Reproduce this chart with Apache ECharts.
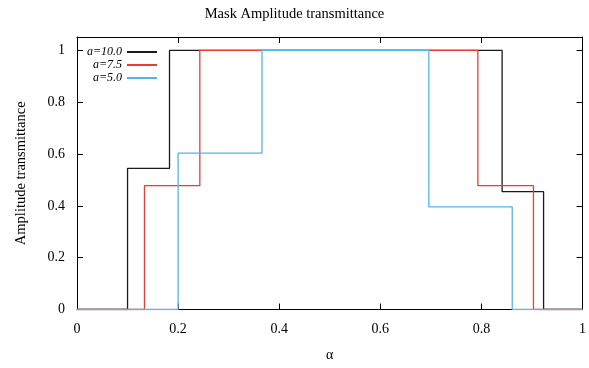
<!DOCTYPE html>
<html>
<head>
<meta charset="utf-8">
<script src="https://cdn.jsdelivr.net/npm/echarts@6/dist/echarts.min.js"></script>
<style>html,body{margin:0;padding:0;background:#fff}#chart{width:589px;height:368px}</style>
</head>
<body>
<div id="chart"></div>
<script>
// Step edges (alpha) and the transmittance level that holds from each edge to the next
const seriesNames = ['a=10.0', 'a=7.5', 'a=5.0'];
const edges10 = [0, 0.100, 0.183, 0.841, 0.923, 1];
const levels10 = [0, 0.545, 1, 0.455, 0, 0];
const edges75 = [0, 0.1335, 0.243, 0.793, 0.903, 1];
const levels75 = [0, 0.478, 1, 0.478, 0, 0];
const edges50 = [0, 0.200, 0.366, 0.696, 0.861, 1];
const levels50 = [0, 0.604, 1, 0.396, 0, 0];
const xTicks = ['0', '0.2', '0.4', '0.6', '0.8', '1'];
const yTicks = ['0', '0.2', '0.4', '0.6', '0.8', '1'];

const colors = ['#1a1a1a', '#ef3b2f', '#56b4e9'];
const font = 'Liberation Serif';

function pairs(xs, ys) { return xs.map((x, i) => [x, ys[i]]); }
const allData = [pairs(edges10, levels10), pairs(edges75, levels75), pairs(edges50, levels50)];

function fmt(list) {
  return v => { const s = String(+v.toFixed(1)); return list.includes(s) ? s : ''; };
}

const axisBase = {
  type: 'value', min: 0, interval: 0.2,
  axisLine: { show: true, onZero: false, lineStyle: { color: '#000', width: 1 } },
  axisTick: { show: true, inside: true, length: 6, lineStyle: { color: '#000' } },
  splitLine: { show: false },
  axisLabel: { color: '#000', fontFamily: font, fontSize: 14 }
};

const chart = echarts.init(document.getElementById('chart'), null, { renderer: 'canvas' });
chart.setOption({
  animation: false,
  backgroundColor: '#fff',
  title: {
    text: 'Mask Amplitude transmittance', left: 'center', top: 2,
    textStyle: { fontFamily: font, fontSize: 14.5, fontWeight: 'normal', color: '#000' }
  },
  legend: {
    data: seriesNames, orient: 'vertical', left: 77, top: 40.5,
    align: 'right', itemWidth: 30, itemHeight: 2, itemGap: 0,
    icon: 'rect',
    textStyle: { fontFamily: font, fontStyle: 'italic', fontSize: 12, lineHeight: 13, color: '#000', width: 40, align: 'right' }
  },
  grid: { left: 77, right: 4.5, top: 37, bottom: 58.5 },
  xAxis: [
    Object.assign({}, axisBase, { max: 1, position: 'bottom',
      name: 'α', nameLocation: 'middle', nameGap: 39,
      nameTextStyle: { fontFamily: font, fontSize: 14, color: '#000' },
      axisLabel: Object.assign({}, axisBase.axisLabel, { margin: 13, formatter: fmt(xTicks) }) }),
    Object.assign({}, axisBase, { max: 1, position: 'top', axisLabel: { show: false } })
  ],
  yAxis: [
    Object.assign({}, axisBase, { max: 1.052, position: 'left',
      name: 'Amplitude transmittance', nameLocation: 'middle', nameGap: 48,
      nameTextStyle: { fontFamily: font, fontSize: 14.5, color: '#000' },
      axisLabel: Object.assign({}, axisBase.axisLabel, { margin: 12, formatter: fmt(yTicks) }) }),
    Object.assign({}, axisBase, { max: 1.052, position: 'right', axisLabel: { show: false } })
  ],
  series: seriesNames.map((n, i) => ({
    name: n, type: 'line', step: 'end', data: allData[i],
    xAxisIndex: 0, yAxisIndex: 0,
    symbol: 'none', color: colors[i],
    lineStyle: { width: 1.3, color: colors[i] }
  }))
});
</script>
</body>
</html>
